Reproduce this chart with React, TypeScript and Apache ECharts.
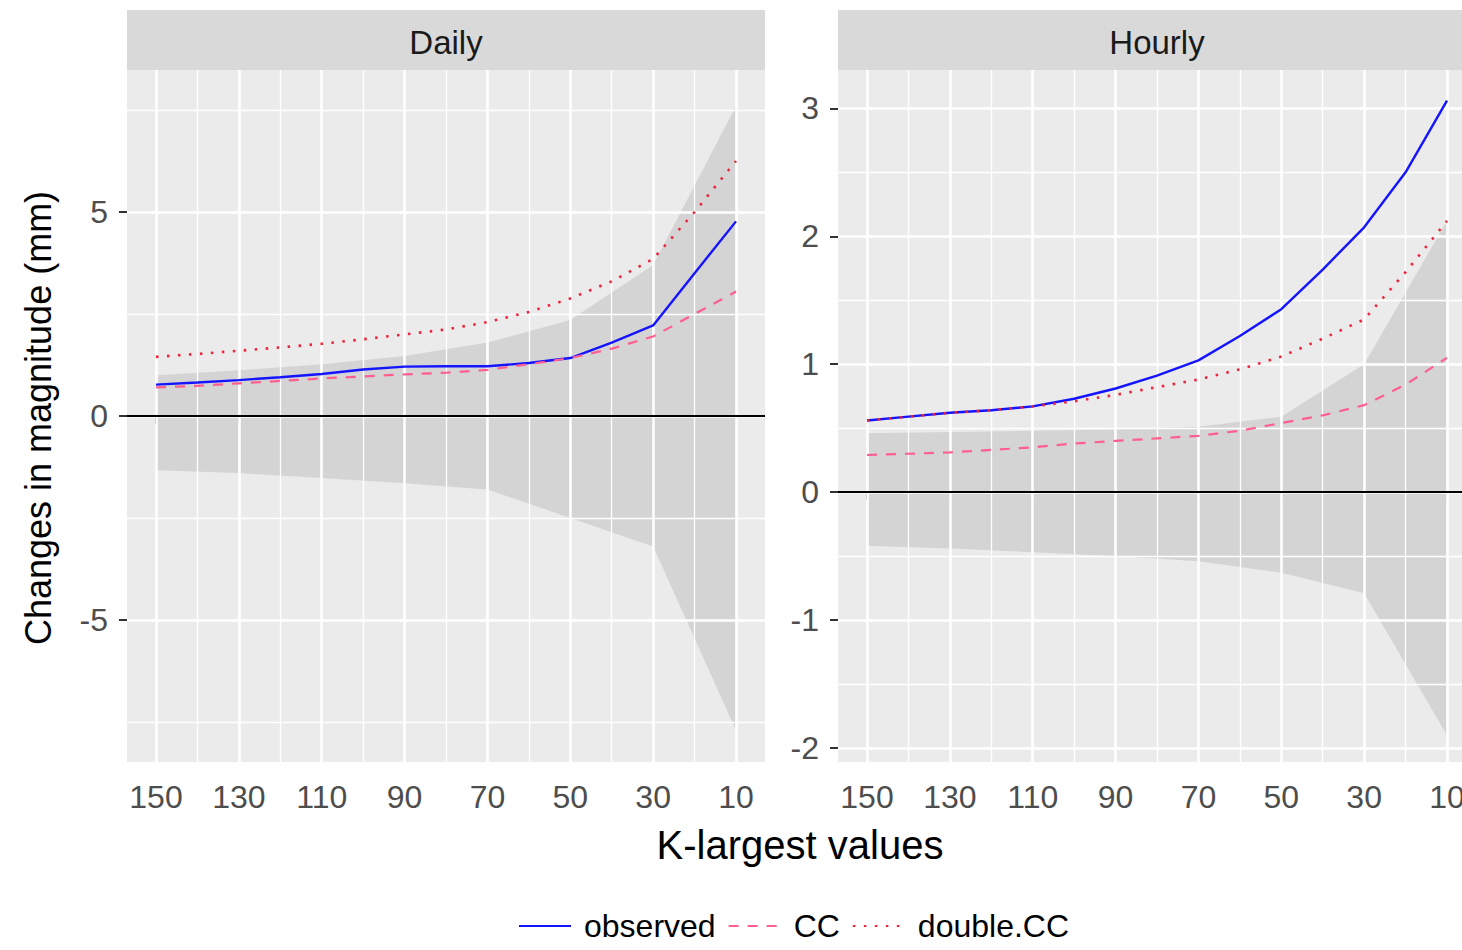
import React, { useEffect, useRef } from "react";
import * as echarts from "echarts";

// ---- data ----
const K = [150, 140, 130, 120, 110, 100, 90, 80, 70, 60, 50, 40, 30, 20, 10];
const dailyObserved = [0.77, 0.82, 0.88, 0.95, 1.03, 1.14, 1.21, 1.22, 1.22, 1.3, 1.42, 1.8, 2.22, 3.5, 4.77];
const dailyCC = [0.7, 0.74, 0.8, 0.86, 0.92, 0.97, 1.02, 1.06, 1.13, 1.27, 1.42, 1.65, 1.95, 2.5, 3.05];
const dailyDoubleCC = [1.45, 1.52, 1.6, 1.68, 1.77, 1.88, 2.0, 2.12, 2.3, 2.55, 2.88, 3.3, 3.85, 5.0, 6.25];
const hourlyObserved = [0.56, 0.59, 0.62, 0.64, 0.67, 0.73, 0.81, 0.91, 1.03, 1.22, 1.43, 1.74, 2.07, 2.5, 3.06];
const hourlyCC = [0.29, 0.3, 0.31, 0.33, 0.35, 0.38, 0.4, 0.42, 0.44, 0.48, 0.54, 0.6, 0.68, 0.84, 1.05];
const hourlyDoubleCC = [0.56, 0.59, 0.62, 0.64, 0.67, 0.71, 0.76, 0.82, 0.88, 0.96, 1.06, 1.2, 1.35, 1.72, 2.12];

const RIBBON_K = [150, 130, 110, 90, 70, 50, 30, 10];
const dailyLower = [-1.33, -1.4, -1.52, -1.65, -1.8, -2.5, -3.2, -7.7];
const dailyUpper = [1.0, 1.12, 1.27, 1.47, 1.8, 2.35, 3.7, 7.6];
const hourlyLower = [-0.42, -0.44, -0.47, -0.5, -0.54, -0.63, -0.79, -1.9];
const hourlyUpper = [0.46, 0.47, 0.48, 0.49, 0.51, 0.59, 1.0, 2.12];

const X_TICKS = [150, 130, 110, 90, 70, 50, 30, 10];
const X_MINOR = [140, 120, 100, 80, 60, 40, 20];
const DAILY_Y_TICKS = [-5, 0, 5];
const DAILY_Y_MINOR = [-7.5, -2.5, 2.5, 7.5];
const HOURLY_Y_TICKS = [-2, -1, 0, 1, 2, 3];
const HOURLY_Y_MINOR = [-1.5, -0.5, 0.5, 1.5, 2.5];

const PANEL_NAMES = ["Daily", "Hourly"];
const SERIES_NAMES = ["observed", "CC", "double.CC"];

const FONT = "'Liberation Sans', Arial, Helvetica, sans-serif";
const C_OBS = "#1414FF";
const C_CC = "#FF5E8F";
const C_DCC = "#EE2238";

const PANELS = [
  {
    left: 127, ymin: -8.48, ymax: 8.48, yTicks: DAILY_Y_TICKS, yMinor: DAILY_Y_MINOR,
    obs: dailyObserved, cc: dailyCC, dcc: dailyDoubleCC, lo: dailyLower, hi: dailyUpper,
  },
  {
    left: 838, ymin: -2.11, ymax: 3.3, yTicks: HOURLY_Y_TICKS, yMinor: HOURLY_Y_MINOR,
    obs: hourlyObserved, cc: hourlyCC, dcc: hourlyDoubleCC, lo: hourlyLower, hi: hourlyUpper,
  },
];
const GRID_TOP = 70;
const GRID_W = 638;
const GRID_H = 692;

function buildOption() {
  const grid: any[] = [];
  const xAxis: any[] = [];
  const yAxis: any[] = [];
  const series: any[] = [];
  const graphic: any[] = [];

  PANELS.forEach((p, i) => {
    grid.push({ left: p.left, top: GRID_TOP, width: GRID_W, height: GRID_H, containLabel: false, outerBoundsMode: "none", show: true, backgroundColor: "#EBEBEB", borderWidth: 0 });
    xAxis.push({
      type: "value", gridIndex: i, min: 3, max: 157, inverse: true,
      axisLine: { show: false }, splitLine: { show: false }, minorSplitLine: { show: false },
      axisTick: { show: true, customValues: X_TICKS, length: 8, lineStyle: { color: "#333333", width: 2 } },
      axisLabel: { show: true, customValues: X_TICKS, margin: 19, color: "#4D4D4D", fontSize: 32, fontFamily: FONT },
    });
    yAxis.push({
      type: "value", gridIndex: i, min: p.ymin, max: p.ymax,
      axisLine: { show: false }, splitLine: { show: false }, minorSplitLine: { show: false },
      axisTick: { show: true, customValues: p.yTicks, length: 8, lineStyle: { color: "#333333", width: 2 } },
      axisLabel: { show: true, customValues: p.yTicks, margin: 19, color: "#4D4D4D", fontSize: 32, fontFamily: FONT },
    });

    // grid lines (major + minor)
    const gl: any[] = [];
    X_MINOR.forEach((v) => gl.push({ xAxis: v, lineStyle: { color: "#FFFFFF", width: 1.3, type: "solid" } }));
    p.yMinor.forEach((v) => gl.push({ yAxis: v, lineStyle: { color: "#FFFFFF", width: 1.3, type: "solid" } }));
    X_TICKS.forEach((v) => gl.push({ xAxis: v, lineStyle: { color: "#FFFFFF", width: 2.6, type: "solid" } }));
    p.yTicks.forEach((v) => gl.push({ yAxis: v, lineStyle: { color: "#FFFFFF", width: 2.6, type: "solid" } }));
    series.push({
      type: "line", xAxisIndex: i, yAxisIndex: i, data: [], z: 1, silent: true,
      markLine: { silent: true, symbol: ["none", "none"], label: { show: false }, emphasis: { disabled: true }, animation: false, data: gl },
    });

    // ribbon
    const lo = p.lo;
    const hi = p.hi;
    series.push({
      type: "custom", xAxisIndex: i, yAxisIndex: i, z: 2, silent: true,
      data: RIBBON_K.map((k, j) => [k, lo[j], hi[j]]),
      encode: { x: 0, y: [1, 2] },
      renderItem: (params: any, api: any) => {
        if (params.dataIndex !== 0) return null;
        const pts: number[][] = [];
        RIBBON_K.forEach((k, j) => pts.push(api.coord([k, hi[j]])));
        for (let j = RIBBON_K.length - 1; j >= 0; j--) pts.push(api.coord([RIBBON_K[j], lo[j]]));
        return { type: "polygon", shape: { points: pts }, style: { fill: "#D1D1D1", opacity: 0.9 } };
      },
    });

    // zero reference line
    series.push({
      type: "line", xAxisIndex: i, yAxisIndex: i, data: [], z: 3, silent: true,
      markLine: { silent: true, symbol: ["none", "none"], label: { show: false }, emphasis: { disabled: true }, animation: false,
        data: [{ yAxis: 0, lineStyle: { color: "#000000", width: 2.2, type: "solid" } }] },
    });

    // lines
    series.push({
      type: "line", name: SERIES_NAMES[0], xAxisIndex: i, yAxisIndex: i, z: 5, silent: true,
      data: K.map((k, j) => [k, p.obs[j]]), symbol: "none",
      lineStyle: { color: C_OBS, width: 2.4, type: "solid" }, itemStyle: { color: C_OBS, opacity: 0 },
    });
    series.push({
      type: "line", name: SERIES_NAMES[1], xAxisIndex: i, yAxisIndex: i, z: 5, silent: true,
      data: K.map((k, j) => [k, p.cc[j]]), symbol: "none",
      lineStyle: { color: C_CC, width: 2.2, type: [10, 9] }, itemStyle: { color: C_CC, opacity: 0 },
    });
    series.push({
      type: "line", name: SERIES_NAMES[2], xAxisIndex: i, yAxisIndex: i, z: 5, silent: true,
      data: K.map((k, j) => [k, p.dcc[j]]), symbol: "none",
      lineStyle: { color: C_DCC, width: 2.6, type: [2.5, 8.5] }, itemStyle: { color: C_DCC, opacity: 0 },
    });

    // facet strip
    graphic.push({ type: "rect", silent: true, shape: { x: p.left, y: 10, width: GRID_W, height: 60 }, style: { fill: "#D9D9D9" }, z: 1 });
    graphic.push({
      type: "text", silent: true, x: p.left + GRID_W / 2, y: 42, z: 2,
      style: { text: PANEL_NAMES[i], fontSize: 33, fontFamily: FONT, fill: "#1A1A1A", align: "center", verticalAlign: "middle", textAlign: "center", textVerticalAlign: "middle" },
    });
  });

  graphic.push({
    type: "text", silent: true, x: 800, y: 845,
    style: { text: "K-largest values", fontSize: 40, fontFamily: FONT, fill: "#000000", align: "center", verticalAlign: "middle", textAlign: "center", textVerticalAlign: "middle" },
  });
  graphic.push({
    type: "text", silent: true, x: 38, y: 418, rotation: Math.PI / 2,
    style: { text: "Changes in magnitude (mm)", fontSize: 36, fontFamily: FONT, fill: "#000000", align: "center", verticalAlign: "middle", textAlign: "center", textVerticalAlign: "middle" },
  });

  return {
    animation: false,
    backgroundColor: "#FFFFFF",
    textStyle: { fontFamily: FONT },
    grid, xAxis, yAxis, series, graphic,
    legend: {
      data: SERIES_NAMES, left: 513, top: 905, orient: "horizontal",
      itemWidth: 52, itemHeight: 14, itemGap: 12, selectedMode: false,
      itemStyle: { opacity: 0 },
      textStyle: { fontSize: 32, color: "#000000", fontFamily: FONT, padding: [0, 0, 0, 8] },
    },
  };
}

export default function App() {
  const ref = useRef<HTMLDivElement>(null);
  useEffect(() => {
    if (!ref.current) return;
    const chart = echarts.init(ref.current, null, { renderer: "svg" });
    chart.setOption(buildOption() as any);
    return () => chart.dispose();
  }, []);
  return (
    <div
      ref={ref}
      style={{ position: "fixed", left: 0, top: 0, width: 1500, height: 950, background: "#FFFFFF" }}
    />
  );
}
